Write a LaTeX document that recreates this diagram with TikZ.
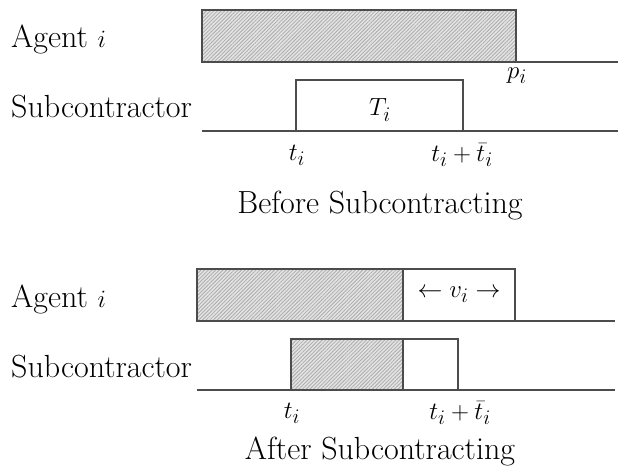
\documentclass[tikz,border=0pt]{standalone}
\usetikzlibrary{patterns.meta}
\begin{document}
\begin{tikzpicture}[x=1pt,y=-1pt,
  lbl/.style={font=\fontsize{32}{38}\selectfont, inner sep=0pt},
  edge/.style={draw=black!70, line width=1.6pt},
  hatch/.style={fill=gray!22, postaction={pattern={Lines[angle=45,distance=2.6pt,line width=0.8pt]}, pattern color=gray!65}},
]
\useasboundingbox (0,0) rectangle (618,471);
% ---------- Before ----------
\node[lbl, anchor=base west] (a1) at (11,47) {Agent $i$};
\node[lbl, anchor=base west] (s1) at (11,117) {Subcontractor};
\path[hatch] (202,10) rectangle (516,62);
\draw[edge] (202,10) rectangle (516,62);
\draw[edge] (516,62) -- (618,62);
\draw[edge] (296,131) |- (463,80) -- (463,131);
\draw[edge] (202,131) -- (618,131);
\node[lbl] (pi) at (517,76) {$p_i$};
\node[lbl] (Ti) at (380,110) {$T_i$};
\node[lbl] (t1) at (297,155) {$t_i$};
\node[lbl] (tt1) at (462,155) {$t_i+\bar{t}_i$};
\node[lbl, anchor=base] (bef) at (380,213) {Before Subcontracting};
% ---------- After ----------
\node[lbl, anchor=base west] (a2) at (11,307) {Agent $i$};
\node[lbl, anchor=base west] (s2) at (11,377) {Subcontractor};
\path[hatch] (197,269) rectangle (403,321);
\draw[edge] (197,269) rectangle (515,321);
\draw[edge] (403,269) -- (403,321);
\draw[edge] (515,321) -- (615,321);
\path[hatch] (291,339) rectangle (403,390);
\draw[edge] (291,390) |- (458,339) -- (458,390);
\draw[edge] (403,339) -- (403,390);
\draw[edge] (197,390) -- (615,390);
\node[lbl] (vi) at (459,295) {$\leftarrow v_i \rightarrow$};
\node[lbl] (t2) at (292,413) {$t_i$};
\node[lbl] (tt2) at (460,413) {$t_i+\bar{t}_i$};
\node[lbl, anchor=base] (aft) at (380,459) {After Subcontracting};
\end{tikzpicture}
\end{document}
